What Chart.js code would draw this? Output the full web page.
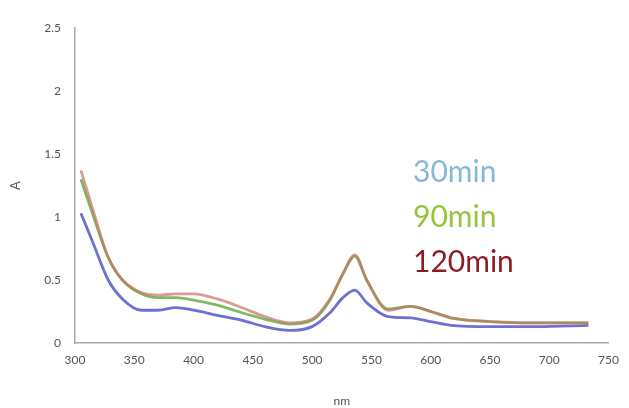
<!DOCTYPE html>
<html>
<head>
<meta charset="utf-8">
<script src="https://cdn.jsdelivr.net/npm/chart.js"></script>
<style>
  html, body { margin: 0; padding: 0; background: #fff; }
  #wrap { width: 629px; height: 408px; }
</style>
</head>
<body>
<div id="wrap"><canvas id="myChart" width="629" height="408"></canvas></div>
<script>
  // wavelengths (nm)
  const wavelengths = [305, 315, 328, 340, 356, 370, 385, 400, 420, 441, 460, 481, 500, 515, 526, 536, 546, 564, 583, 600, 617, 650, 690, 733];
  const abs30  = [1.03, 0.80, 0.50, 0.35, 0.26, 0.26, 0.28, 0.26, 0.22, 0.18, 0.13, 0.10, 0.13, 0.24, 0.36, 0.42, 0.32, 0.21, 0.20, 0.17, 0.14, 0.13, 0.13, 0.14];
  const abs90  = [1.30, 1.02, 0.68, 0.50, 0.39, 0.36, 0.36, 0.34, 0.30, 0.24, 0.19, 0.15, 0.18, 0.34, 0.55, 0.69, 0.50, 0.27, 0.29, 0.25, 0.20, 0.17, 0.16, 0.16];
  const abs120 = [1.37, 1.06, 0.68, 0.50, 0.40, 0.38, 0.39, 0.39, 0.35, 0.28, 0.21, 0.16, 0.19, 0.35, 0.55, 0.70, 0.50, 0.26, 0.29, 0.25, 0.20, 0.17, 0.16, 0.16];

  const seriesLabels = ['30min', '90min', '120min'];
  const lineColors = ['#6f70d2', '#7fba66', 'rgba(200,115,100,0.7)'];
  const legendColors = ['#86b9d6', '#93c63a', '#8e1b1f'];

  const xTicks = [300, 350, 400, 450, 500, 550, 600, 650, 700, 750];
  const yTicks = [0, 0.5, 1, 1.5, 2, 2.5];

  const toPoints = arr => arr.map((v, i) => ({ x: wavelengths[i], y: v }));
  const seriesValues = [abs30, abs90, abs120];

  // text legend on the right side of the plot
  const textLegend = {
    id: 'textLegend',
    afterDraw(chart) {
      const c = chart.ctx;
      c.save();
      c.font = '30px Lato, "Open Sans", sans-serif';
      c.textBaseline = 'middle';
      seriesLabels.forEach((lab, i) => {
        c.fillStyle = legendColors[i];
        c.fillText(lab, 413, 172 + i * 45);
      });
      c.restore();
    }
  };

  const ctx = document.getElementById('myChart').getContext('2d');
  new Chart(ctx, {
    type: 'line',
    data: {
      datasets: seriesValues.map((vals, i) => ({
        label: seriesLabels[i],
        data: toPoints(vals),
        borderColor: lineColors[i],
        borderWidth: 2.8,
        pointRadius: 0,
        fill: false,
        order: seriesValues.length - i,
        cubicInterpolationMode: 'monotone'
      }))
    },
    options: {
      responsive: false,
      animation: false,
      layout: { padding: { top: 28, right: 17, left: 8, bottom: 0 } },
      plugins: {
        legend: { display: false },
        tooltip: { enabled: false }
      },
      scales: {
        x: {
          type: 'linear',
          min: 300,
          max: 750,
          grid: { display: false, drawTicks: false },
          border: { color: '#a8a8a8', width: 1.5 },
          afterBuildTicks: s => { s.ticks = xTicks.map(v => ({ value: v })); },
          ticks: { color: '#555', font: { size: 12, family: 'Lato' }, padding: 10 },
          title: { display: true, text: 'nm', color: '#555', font: { size: 12, family: 'Lato' }, padding: { top: 10, bottom: 0 } },
          afterFit: s => { s.height = 65; }
        },
        y: {
          min: 0,
          max: 2.5,
          grid: { display: false, drawTicks: false },
          border: { color: '#a8a8a8', width: 1.5 },
          afterBuildTicks: s => { s.ticks = yTicks.map(v => ({ value: v })); },
          ticks: { color: '#555', font: { size: 12, family: 'Lato' }, padding: 14, callback: v => String(v) },
          title: { display: true, text: 'A', color: '#555', font: { size: 13, family: 'Lato' }, padding: { top: 0, bottom: 8 } },
          afterFit: s => { s.width = 67; }
        }
      }
    },
    plugins: [textLegend]
  });
</script>
</body>
</html>
